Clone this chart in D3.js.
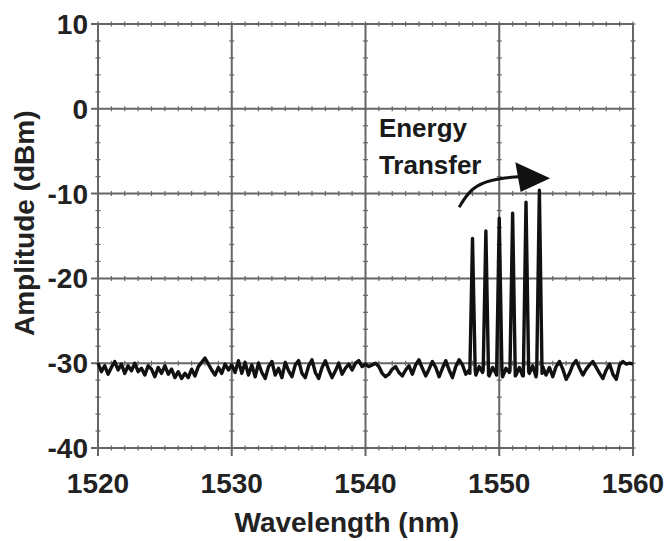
<!DOCTYPE html>
<html lang="en">
<head>
  <meta charset="UTF-8" />
  <title>Energy transfer spectrum</title>
  <script src="https://d3js.org/d3.v7.min.js"></script>
  <style>
    body {
      margin: 0;
      background: #fff;
      font-family: "Liberation Sans", Arial, sans-serif;
    }
    svg {
      display: block;
    }
    .grid line {
      stroke: #666;
      stroke-width: 2px;
    }
    .minor {
      stroke: #666;
      stroke-width: 1.2px;
    }
    .tick-label {
      font-size: 28px;
      font-weight: bold;
      fill: #222;
    }
    .axis-title {
      font-size: 28px;
      font-weight: bold;
      fill: #222;
    }
    .spectrum {
      fill: none;
      stroke: #111;
      stroke-width: 3.4px;
      stroke-linejoin: round;
    }
    .note {
      font-size: 26px;
      font-weight: bold;
      fill: #1a1a1a;
    }
  </style>
</head>
<body>
<svg width="672" height="541"></svg>
<script>
// axis ticks
const xTicks = [1520, 1530, 1540, 1550, 1560];
const yTicks = [10, 0, -10, -20, -30, -40];

// noise floor, sampled every 0.25 nm from 1520 nm
const noiseStart = 1520;
const noiseStep = 0.25;
const noiseFloor = [
  // 1520 - 1530
  -30.0, -31.0, -30.3, -31.3, -30.5, -29.8, -30.8, -30.1, -31.2,
  -30.3, -30.9, -30.0, -31.0, -30.6, -31.4, -30.3,
  -30.7, -31.6, -30.5, -31.2, -30.3,
  -31.3, -30.7, -31.7, -31.0,
  -31.8, -31.2, -31.7, -30.7,
  -31.5, -30.4, -29.9, -29.4,
  -30.1, -30.8, -31.4, -30.5,
  -31.2, -30.1, -30.8, -30.2,
  // 1530.25 - 1540
  -31.1, -29.7, -31.2, -29.9,
  -31.4, -30.2, -31.6, -30.0,
  -31.1, -31.8, -30.4, -29.8,
  -31.4, -30.6, -31.7, -29.9,
  -30.9, -31.6, -30.2, -29.7,
  -31.2, -31.7, -30.3, -29.6,
  -31.1, -31.8, -30.5, -29.7,
  -30.8, -31.7, -30.9, -30.0,
  -31.3, -30.6, -30.1, -30.8,
  -30.0, -29.7, -30.4, -30.1,
  // 1540.25 - 1547.5
  -30.4, -30.2, -30.0, -30.4,
  -31.2, -31.6, -31.3, -30.7,
  -30.4, -31.1, -31.5, -30.8,
  -30.3, -31.3, -30.2, -29.6,
  -30.6, -31.5, -30.7, -29.8,
  -30.5, -31.6, -30.6, -29.7,
  -30.8, -31.7, -30.4, -29.6,
  -30.2, -31.3,
  // 1547.75 - 1553.5
  -30.8, -30.2, -31.4, -30.4, -31.1, -30.1, -31.5, -30.5,
  -31.2, -30.3, -31.6, -30.6, -31.1, -30.2, -31.4, -30.5,
  -31.5, -30.4, -31.2, -30.3, -31.6, -30.6, -30.4, -31.4,
  // 1553.75 - 1560
  -30.5, -31.6, -30.4, -29.8, -30.7, -31.9,
  -31.2, -30.2, -29.7, -30.6,
  -31.4, -30.7, -30.2, -29.8,
  -30.5, -31.2, -31.8, -30.8,
  -30.1, -31.3, -31.9, -30.2,
  -29.8, -30.1, -30.0, -30.1
];

// signal channels
const peakWavelengths = [1548, 1549, 1550, 1551, 1552, 1553];
const peakLevels = [-15.3, -14.4, -12.9, -12.3, -11.0, -9.6];
const peakFoot = [-31.2, -30.8, -31.4, -30.9, -31.5, -31.0];

const margin = {left: 98, top: 24, right: 39, bottom: 93};
const W = 672, H = 541;
const iw = W - margin.left - margin.right;
const ih = H - margin.top - margin.bottom;

const svg = d3.select("svg");
const g = svg.append("g").attr("transform", `translate(${margin.left},${margin.top})`);

const x = d3.scaleLinear().domain([1520, 1560]).range([0, iw]);
const y = d3.scaleLinear().domain([-40, 10]).range([ih, 0]);

// minor ticks on the grid lines
const minorX = d3.range(1520, 1560.5, 1);
const minorY = d3.range(-40, 10.5, 2);
yTicks.forEach(v => {
  g.selectAll(null).data(minorX).join("line")
    .attr("class", "minor")
    .attr("x1", d => x(d)).attr("x2", d => x(d))
    .attr("y1", y(v) - 2.5).attr("y2", y(v) + 2.5);
});
xTicks.forEach(v => {
  g.selectAll(null).data(minorY).join("line")
    .attr("class", "minor")
    .attr("y1", d => y(d)).attr("y2", d => y(d))
    .attr("x1", x(v) - 2.5).attr("x2", x(v) + 2.5);
});

// grid
const grid = g.append("g").attr("class", "grid");
grid.selectAll(".gx").data(xTicks).join("line")
  .attr("x1", d => x(d)).attr("x2", d => x(d))
  .attr("y1", 0).attr("y2", ih + 8);
grid.selectAll(".gy").data(yTicks).join("line")
  .attr("y1", d => y(d)).attr("y2", d => y(d))
  .attr("x1", -7).attr("x2", iw);

// tick labels
g.selectAll(".xl").data(xTicks).join("text")
  .attr("class", "tick-label")
  .attr("x", d => x(d)).attr("y", ih + 45)
  .attr("text-anchor", "middle")
  .text(d => d);
g.selectAll(".yl").data(yTicks).join("text")
  .attr("class", "tick-label")
  .attr("x", -10).attr("y", d => y(d))
  .attr("dy", "0.36em")
  .attr("text-anchor", "end")
  .text(d => d);

// spectrum: noise floor with the channel spikes laid on top
const pts = [];
noiseFloor.forEach((v, i) => {
  const wl = noiseStart + i * noiseStep;
  if (peakWavelengths.some(p => Math.abs(p - wl) < 0.2)) return;
  pts.push([wl, v]);
});
peakWavelengths.forEach((p, i) => {
  pts.push([p - 0.2, peakFoot[i]]);
  pts.push([p, peakLevels[i]]);
  pts.push([p + 0.2, peakFoot[(i + 1) % peakFoot.length]]);
});
pts.sort((a, b) => a[0] - b[0]);

g.append("path")
  .datum(pts)
  .attr("class", "spectrum")
  .attr("d", d3.line().x(d => x(d[0])).y(d => y(d[1])));

// axis titles
svg.append("text")
  .attr("class", "axis-title")
  .attr("x", margin.left + x(1538.6)).attr("y", 532)
  .attr("text-anchor", "middle")
  .text("Wavelength (nm)");
svg.append("text")
  .attr("class", "axis-title")
  .attr("transform", `translate(34,${margin.top + y(-13.5)}) rotate(-90)`)
  .attr("text-anchor", "middle")
  .text("Amplitude (dBm)");

// annotation
g.append("text").attr("class", "note")
  .attr("x", x(1541.0)).attr("y", y(-3.3))
  .text("Energy");
g.append("text").attr("class", "note")
  .attr("x", x(1541.0)).attr("y", y(-7.7))
  .text("Transfer");

const arrowPts = [[1547.0, -11.6], [1547.9, -9.3], [1549.4, -8.3], [1551.5, -8.0]];
g.append("path")
  .datum(arrowPts)
  .attr("fill", "none")
  .attr("stroke", "#111")
  .attr("stroke-width", 3)
  .attr("d", d3.line().x(d => x(d[0])).y(d => y(d[1])).curve(d3.curveBasis));
const head = [[1551.2, -6.3], [1553.8, -8.2], [1551.6, -9.8]];
g.append("path")
  .datum(head)
  .attr("fill", "#111")
  .attr("d", d3.line().x(d => x(d[0])).y(d => y(d[1])).curve(d3.curveLinearClosed));
</script>
</body>
</html>
